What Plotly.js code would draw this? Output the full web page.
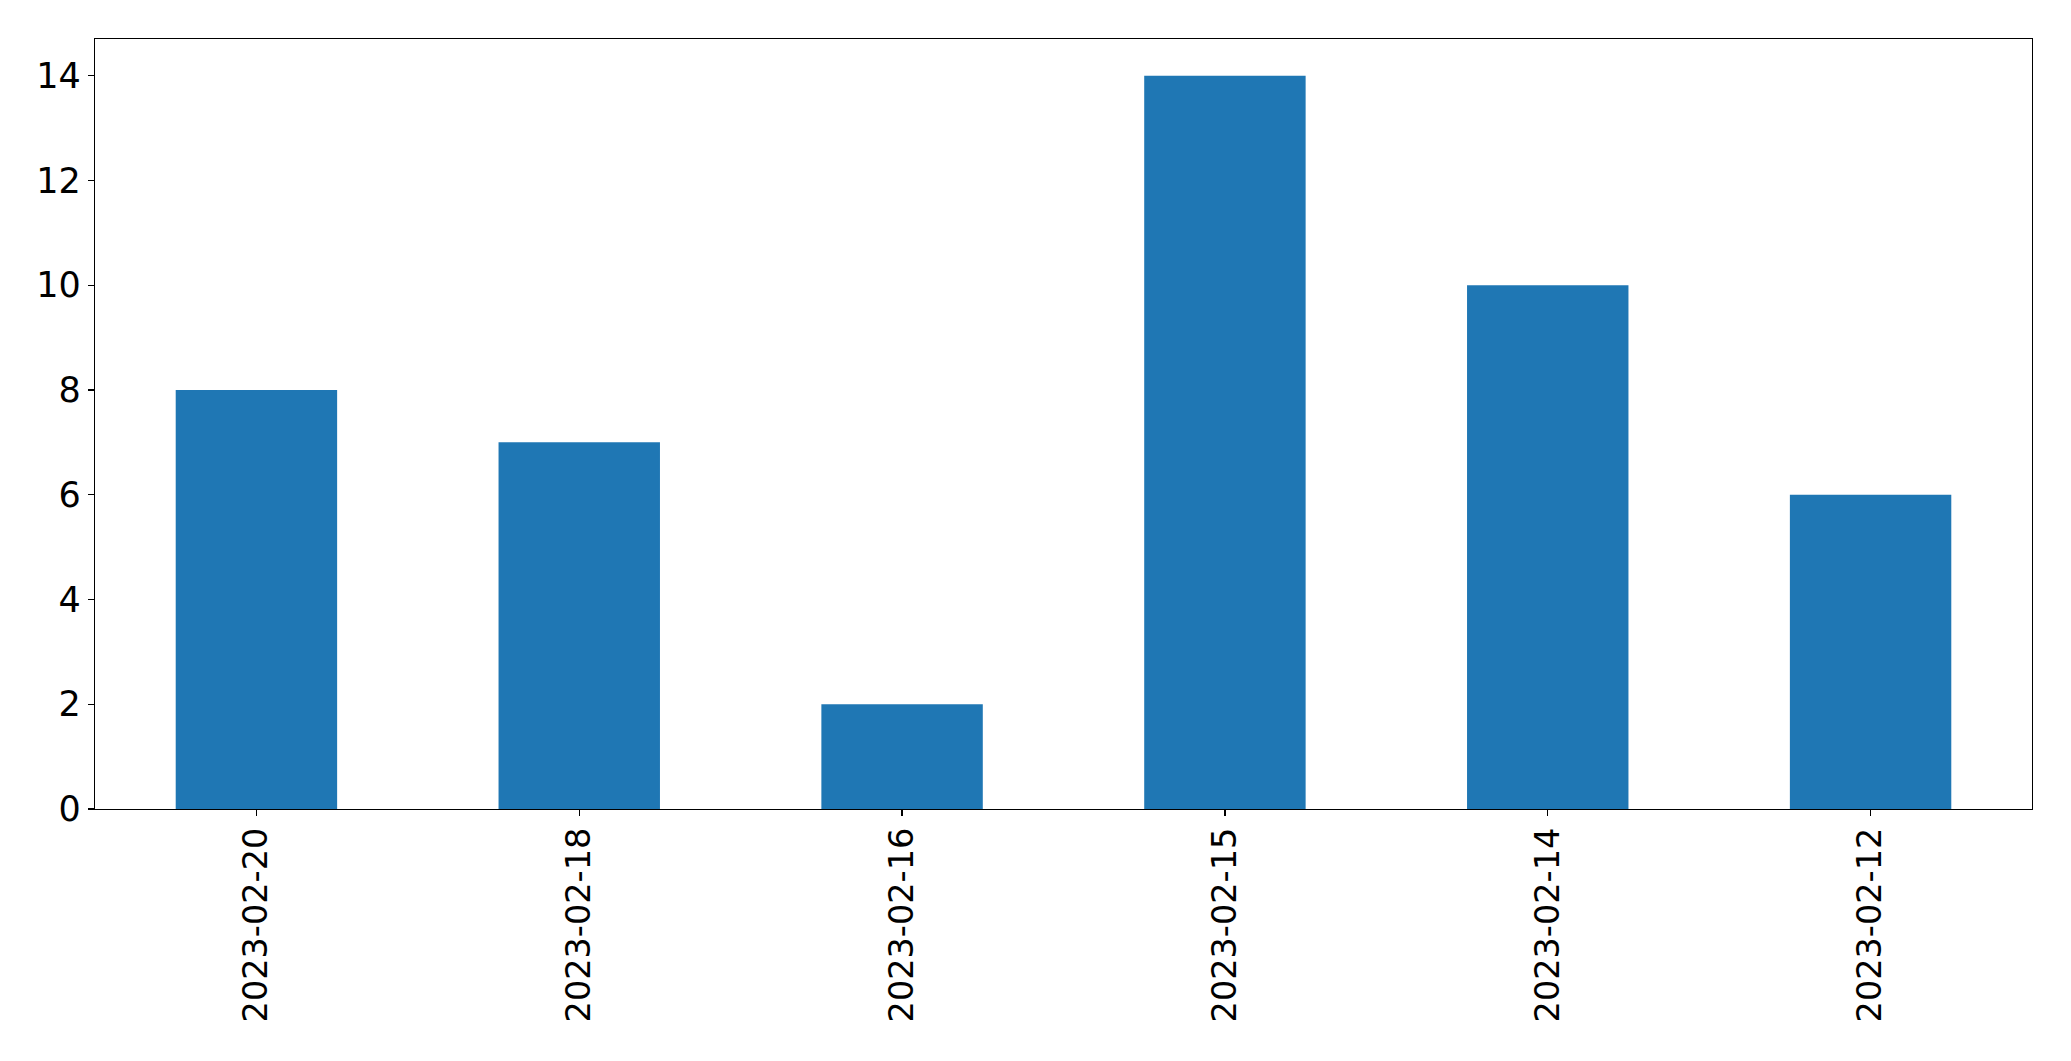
<!DOCTYPE html>
<html>
<head>
<meta charset="utf-8">
<script src="https://cdn.plot.ly/plotly-3.0.1.min.js"></script>
<style>html,body{margin:0;padding:0;background:#fff;}#chart{width:2071px;height:1061px;}</style>
</head>
<body>
<div id="chart"></div>
<script>
const categories = ["2023-02-20", "2023-02-18", "2023-02-16", "2023-02-15", "2023-02-14", "2023-02-12"];
const values = [8, 7, 2, 14, 10, 6];
const yTicks = [0, 2, 4, 6, 8, 10, 12, 14];

const trace = {
  type: 'bar',
  x: categories,
  y: values,
  width: 0.5,
  marker: {color: '#1f77b4', line: {width: 0}},
  hoverinfo: 'x+y'
};

const layout = {
  width: 2071,
  height: 1061,
  margin: {l: 95, r: 39, t: 39, b: 252},
  paper_bgcolor: '#ffffff',
  plot_bgcolor: '#ffffff',
  showlegend: false,
  bargap: 0.5,
  font: {family: 'DejaVu Sans', color: '#000000', size: 35},
  xaxis: {
    type: 'category',
    range: [-0.5, 5.5],
    tickangle: -90,
    ticks: 'outside',
    ticklen: 6,
    tickwidth: 1.3,
    tickcolor: '#000',
    showline: true,
    linecolor: '#000',
    linewidth: 1.3,
    mirror: true,
    showgrid: false,
    zeroline: false,
    ticklabelstandoff: -2,
    tickfont: {family: 'DejaVu Sans', size: 33.5, color: '#000'}
  },
  yaxis: {
    range: [0, 14.7],
    tickmode: 'array',
    tickvals: yTicks,
    ticktext: yTicks.map(String),
    ticks: 'outside',
    ticklen: 6,
    tickwidth: 1.3,
    tickcolor: '#000',
    showline: true,
    linecolor: '#000',
    linewidth: 1.3,
    mirror: true,
    showgrid: false,
    zeroline: false,
    tickfont: {family: 'DejaVu Sans', size: 35, color: '#000'}
  }
};

Plotly.newPlot('chart', [trace], layout, {displayModeBar: false, staticPlot: true});
</script>
</body>
</html>
